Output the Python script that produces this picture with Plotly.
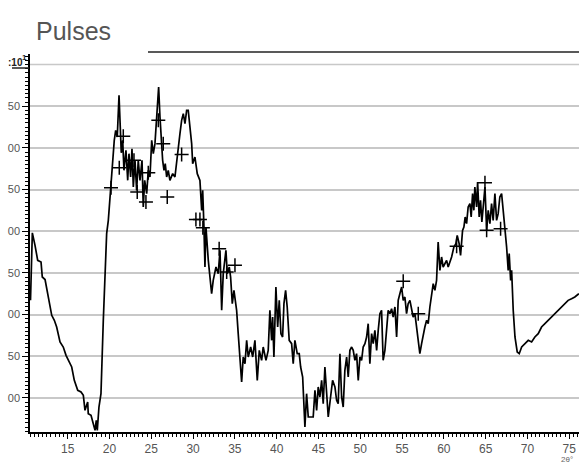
import plotly.graph_objects as go

# Diffraction scan: 2-theta position (deg) and pulse count (x10)
two_theta = [
    10.55, 10.77, 11.09, 11.41, 11.81, 11.96, 12.29, 12.68, 13.09, 13.40, 13.68, 14.08, 14.47, 14.80,
    15.16, 15.48, 15.79, 16.20, 16.59, 16.87, 17.07, 17.39, 17.46, 17.79, 18.06, 18.27, 18.42, 18.54,
    18.74, 18.98, 19.26, 19.46, 19.66, 19.86, 20.14, 20.38, 20.57, 20.74, 20.93, 21.14, 21.26, 21.41,
    21.58, 21.73, 21.97, 22.18, 22.33, 22.53, 22.69, 22.85, 23.05, 23.25, 23.44, 23.65, 23.89, 24.04,
    24.21, 24.45, 24.64, 24.84, 25.05, 25.24, 25.44, 25.60, 25.76, 25.88, 26.04, 26.19, 26.36, 26.52,
    26.67, 26.84, 27.03, 27.23, 27.56, 27.83, 28.04, 28.23, 28.43, 28.63, 28.83, 29.03, 29.23, 29.42,
    29.63, 29.83, 29.95, 30.22, 30.50, 30.82, 31.03, 31.15, 31.30, 31.42, 31.54, 31.82, 32.22, 32.41,
    32.74, 33.01, 33.22, 33.42, 33.61, 33.93, 34.09, 34.33, 34.49, 34.69, 34.89, 35.21, 35.40, 35.61,
    35.81, 36.00, 36.21, 36.41, 36.60, 36.89, 37.13, 37.40, 37.68, 37.92, 38.20, 38.39, 38.72, 38.99,
    39.19, 39.40, 39.52, 39.67, 39.91, 40.12, 40.31, 40.51, 40.71, 40.87, 41.07, 41.26, 41.50, 41.79,
    41.98, 42.18, 42.46, 42.70, 42.87, 43.11, 43.38, 43.58, 43.78, 44.06, 44.37, 44.58, 44.78, 44.97,
    45.17, 45.38, 45.57, 45.77, 45.98, 46.17, 46.45, 46.69, 46.97, 47.17, 47.36, 47.57, 47.77, 47.96,
    48.16, 48.37, 48.56, 48.76, 48.97, 49.16, 49.36, 49.56, 49.76, 49.96, 50.16, 50.35, 50.56, 50.76,
    50.95, 51.15, 51.36, 51.55, 51.75, 51.96, 52.15, 52.35, 52.55, 52.74, 52.95, 53.15, 53.34, 53.55,
    53.75, 53.94, 54.15, 54.35, 54.54, 54.74, 54.95, 55.14, 55.34, 55.54, 55.73, 55.94, 56.14, 56.33,
    56.54, 56.74, 56.93, 57.13, 57.34, 57.53, 57.73, 57.94, 58.13, 58.33, 58.53, 58.73, 58.93, 59.13,
    59.32, 59.53, 59.73, 59.92, 60.33, 60.52, 60.93, 61.20, 61.44, 61.60, 61.83, 62.00, 62.24, 62.40,
    62.55, 62.72, 62.91, 63.12, 63.27, 63.44, 63.59, 63.71, 63.92, 64.04, 64.23, 64.39, 64.55, 64.71,
    64.92, 65.12, 65.31, 65.51, 65.71, 65.90, 66.11, 66.31, 66.50, 66.70, 66.91, 67.10, 67.31, 67.51,
    67.70, 67.82, 67.99, 68.11, 68.30, 68.51, 68.78, 69.02, 69.31, 69.70, 70.10, 70.50, 70.89, 71.29,
    71.69, 72.09, 72.48, 72.89, 73.28, 73.68, 74.08, 74.47, 74.87, 75.28, 75.67, 76.15,
]
pulses = [
    217, 298, 283, 265, 263, 245, 242, 219, 199, 193, 185, 167, 161, 151,
    143, 137, 121, 109, 107, 103, 85, 95, 81, 79, 69, 61, 73, 61,
    89, 105, 193, 253, 297, 313, 353, 385, 409, 421, 413, 463, 433, 394,
    409, 373, 397, 361, 393, 365, 399, 353, 385, 349, 385, 361, 385, 329,
    361, 345, 373, 365, 409, 393, 405, 433, 457, 473, 437, 409, 385, 373,
    381, 365, 373, 361, 369, 365, 381, 401, 417, 433, 441, 429, 445, 445,
    425, 405, 381, 389, 369, 361, 325, 349, 305, 257, 305, 265, 225, 241,
    257, 249, 277, 205, 249, 277, 249, 257, 245, 213, 229, 205, 177, 145,
    119, 149, 141, 169, 149, 161, 149, 169, 121, 157, 145, 161, 145, 157,
    205, 169, 197, 149, 233, 185, 217, 177, 173, 213, 229, 209, 169, 165,
    141, 169, 153, 153, 137, 125, 65, 105, 77, 77, 77, 109, 85, 113,
    101, 121, 93, 137, 109, 77, 101, 121, 113, 97, 93, 153, 101, 89,
    133, 149, 125, 157, 161, 157, 145, 153, 121, 149, 145, 161, 165, 173,
    189, 141, 177, 165, 181, 157, 181, 201, 205, 145, 157, 177, 205, 201,
    207, 197, 209, 173, 217, 225, 233, 217, 221, 201, 213, 217, 205, 197,
    201, 185, 169, 153, 165, 177, 185, 193, 189, 209, 221, 237, 229, 241,
    287, 253, 269, 257, 265, 257, 269, 281, 285, 295, 285, 271, 301, 305,
    317, 309, 329, 333, 317, 345, 325, 353, 329, 359, 317, 337, 311, 329,
    353, 301, 325, 309, 333, 313, 345, 313, 321, 341, 345, 325, 305, 281,
    253, 273, 241, 253, 205, 173, 155, 153, 161, 165, 169, 167, 173, 177,
    185, 189, 193, 197, 201, 205, 209, 213, 217, 219, 221, 225,
]

# Marked reflection positions
peak_theta = [20.18, 21.17, 21.65, 22.93, 23.32, 24.36, 24.64, 25.84, 26.43, 26.91, 28.63,
              30.34, 30.82, 31.17, 33.12, 34.02, 35.01, 55.14, 56.94, 61.53, 64.92, 65.12, 66.79]
peak_pulses = [352, 376, 414, 385, 347, 335, 370, 433, 405, 341, 392,
               314, 314, 304, 279, 251, 259, 240, 201, 282, 358, 301, 303]

x_ticks = [15, 20, 25, 30, 35, 40, 45, 50, 55, 60, 65, 70, 75]
y_ticks = [100, 150, 200, 250, 300, 350, 400, 450]
y_tick_text = ["00", "50", "00", "50", "00", "50", "00", "50"]
y_top_grid = 500

W, H = 579, 464
L, R, T, B = 30, 0, 54, 32
pw, ph = W - L - R, H - T - B


def px(xp):
    return (xp - L) / pw


def py(yp):
    return (H - B - yp) / ph


fig = go.Figure()
fig.add_trace(go.Scatter(
    x=two_theta, y=pulses, mode="lines",
    line=dict(color="#000000", width=1.7),
    showlegend=False, hoverinfo="skip",
))
fig.add_trace(go.Scatter(
    x=peak_theta, y=peak_pulses, mode="markers",
    marker=dict(symbol="cross-thin", size=10, line=dict(color="#000000", width=1.5)),
    showlegend=False, hoverinfo="skip",
))

fig.update_layout(
    width=W, height=H,
    margin=dict(l=L, r=R, t=T, b=B),
    paper_bgcolor="white", plot_bgcolor="white",
    font=dict(family="Liberation Sans, Arial, sans-serif", color="#555555"),
    xaxis=dict(
        range=[10.49, 76.17], tickvals=x_ticks, ticks="outside", ticklen=5,
        tickcolor="#000000", tickwidth=1,
        minor=dict(ticks="outside", ticklen=3, dtick=0.5, tickcolor="#000000", showgrid=False),
        showgrid=False, zeroline=False, showline=True, linecolor="#000000", linewidth=1.5,
        tickfont=dict(size=12, color="#555555"),
    ),
    yaxis=dict(
        range=[59, 512.6], tickvals=y_ticks, ticktext=y_tick_text,
        ticks="outside", ticklen=6, tickcolor="#000000", tickwidth=1,
        minor=dict(ticks="outside", ticklen=3, dtick=5, tickcolor="#000000", showgrid=False),
        showgrid=True, gridcolor="#c8c8c8", gridwidth=1.5,
        zeroline=False, showline=True, linecolor="#000000", linewidth=1.5,
        tickfont=dict(size=11, color="#555555"),
    ),
    annotations=[
        dict(text="Pulses", xref="paper", yref="paper", x=px(34), y=py(31),
             xanchor="left", yanchor="middle", showarrow=False,
             font=dict(size=25, color="#555555")),
        dict(text="<b>:10</b>", xref="paper", yref="paper", x=px(25), y=py(62.5),
             xanchor="right", yanchor="middle", showarrow=False,
             font=dict(size=10, color="#222222")),
        dict(text="<b>1</b>", xref="paper", yref="paper", x=px(29), y=py(57.5),
             xanchor="right", yanchor="middle", showarrow=False,
             font=dict(size=8, color="#222222")),
        dict(text="2θ°", xref="paper", yref="paper", x=px(567), y=py(459),
             xanchor="center", yanchor="middle", showarrow=False,
             font=dict(size=8, color="#666666")),
    ],
    shapes=[
        dict(type="line", xref="paper", yref="y", x0=0, x1=1, y0=y_top_grid, y1=y_top_grid,
             layer="below", line=dict(color="#c8c8c8", width=1.5)),
        dict(type="line", xref="paper", yref="paper", x0=px(148), x1=1.0, y0=py(52), y1=py(52),
             line=dict(color="#222222", width=1.5)),
        dict(type="line", xref="paper", yref="paper", x0=px(12), x1=px(29), y0=py(68), y1=py(68),
             line=dict(color="#222222", width=1.5)),
    ],
)

fig.write_html("out.html")
